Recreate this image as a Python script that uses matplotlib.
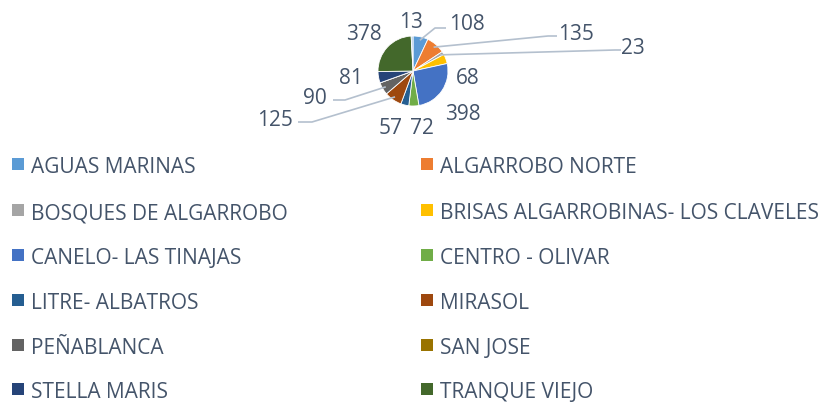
import matplotlib.pyplot as plt
from matplotlib.patches import Rectangle
import numpy as np

plt.rcParams['font.family'] = ['Open Sans', 'DejaVu Sans']

# categories in legend order; the last slice (13) has no visible legend entry
sectores = ['AGUAS MARINAS', 'ALGARROBO NORTE', 'BOSQUES DE ALGARROBO',
            'BRISAS ALGARROBINAS- LOS CLAVELES', 'CANELO- LAS TINAJAS',
            'CENTRO - OLIVAR', 'LITRE- ALBATROS', 'MIRASOL', 'PEÑABLANCA',
            'SAN JOSE', 'STELLA MARIS', 'TRANQUE VIEJO', '']
valores = [108, 135, 23, 68, 398, 72, 57, 125, 90, 0, 81, 378, 13]
colores = ['#5B9BD5', '#ED7D31', '#A5A5A5', '#FFC000', '#4472C4', '#70AD47',
           '#255E91', '#9E480E', '#636363', '#997300', '#264478', '#43682B',
           '#9DC3E6']

W, H = 822, 406
txt_col = '#44546A'
line_col = '#B4C0CE'
dy = 3  # text baseline nudge (px)

# label anchor positions in pixels (x, y from top); None = no label
lbl_pos = [(467, 21), (576, 31), (633, 45), (468, 75), (463, 112), (422, 126),
           (391, 126), (275, 117), (315, 96), None, (351, 75), (364, 31),
           (411, 19)]
# leader lines: elbow and end point (pixels) for the labels that have one
leaders = {0: [(435, 29), (446, 29)], 1: [(548, 37), (557, 37)],
           2: [(615, 51), (621, 51)], 8: [(345, 101), (333, 101)],
           7: [(312, 123), (298, 123)]}

fig = plt.figure(figsize=(W / 100, H / 100), dpi=100)
ax = fig.add_axes([0, 0, 1, 1])

cx, cy, r = 413, H - 72, 35
wedges, _ = ax.pie(valores, colors=colores, startangle=90, counterclock=False,
                   center=(cx, cy), radius=r,
                   wedgeprops=dict(edgecolor='white', linewidth=0.6))
ax.set_xlim(0, W)
ax.set_ylim(0, H)
ax.set_aspect('equal')
ax.axis('off')

for i, w in enumerate(wedges):
    if lbl_pos[i] is None or valores[i] == 0:
        continue
    lx, ly = lbl_pos[i]
    ax.text(lx, H - ly - dy, str(valores[i]), ha='center', va='center',
            fontsize=15, color=txt_col)
    if i in leaders:
        ang = np.deg2rad((w.theta1 + w.theta2) / 2)
        sx, sy = cx + r * 0.9 * np.cos(ang), cy + r * 0.9 * np.sin(ang)
        pts = [(sx, sy)] + [(px, H - py) for px, py in leaders[i]]
        ax.plot([p[0] for p in pts], [p[1] for p in pts], color=line_col,
                lw=1.2, solid_capstyle='butt')

# legend, two columns
row_y = [165, 211, 256, 301, 346, 390]
col_x = [12, 421]
for i, name in enumerate(sectores[:12]):
    x0 = col_x[i % 2]
    y0 = H - row_y[i // 2]
    ax.add_patch(Rectangle((x0, y0 - 6), 12, 12, color=colores[i], lw=0))
    ax.text(x0 + 19, y0 - dy, name, ha='left', va='center', fontsize=15,
            color=txt_col)

fig.savefig('out.png', dpi=100)
